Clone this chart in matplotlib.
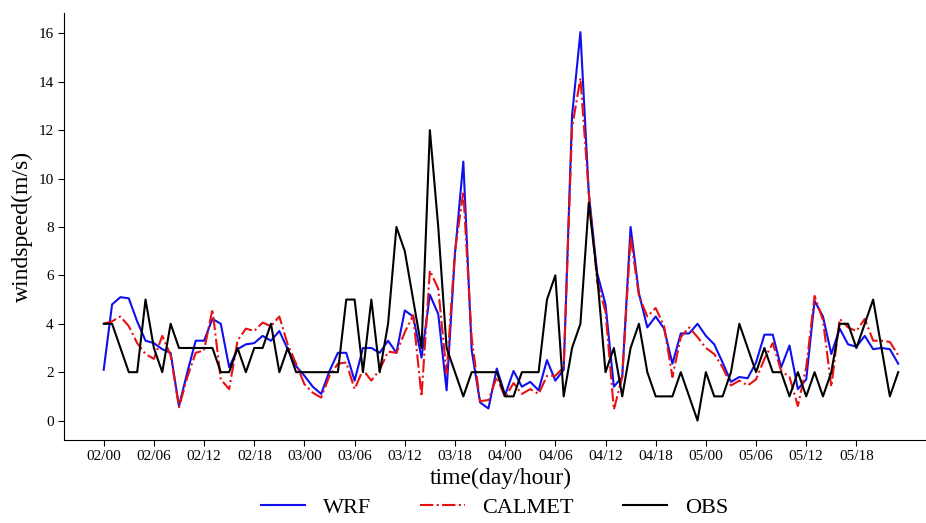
import matplotlib
matplotlib.use("Agg")
import matplotlib.pyplot as plt
import numpy as np

# hourly values, 02/00 .. 05/23
wrf = [2.1, 4.8, 5.1, 5.05, 4.1, 3.3, 3.2, 2.95, 2.8, 0.6, 2.0, 3.3,
       3.3, 4.2, 4.0, 2.2, 2.95, 3.15, 3.2, 3.5, 3.3, 3.7, 2.95, 2.25,
       1.85, 1.4, 1.1, 2.05, 2.8, 2.8, 1.65, 3.0, 3.0, 2.8, 3.3, 2.8,
       4.55, 4.3, 2.6, 5.2, 4.4, 1.25, 6.9, 10.7, 2.9, 0.75, 0.5, 2.15,
       1.05, 2.05, 1.4, 1.6, 1.25, 2.5, 1.65, 2.1, 12.6, 16.05, 9.4, 6.1,
       4.8, 1.4, 1.8, 8.0, 5.25, 3.85, 4.3, 3.8, 2.35, 3.6, 3.6, 4.0,
       3.5, 3.15, 2.4, 1.6, 1.8, 1.75, 2.4, 3.55, 3.55, 2.2, 3.1, 1.3,
       1.7, 4.95, 4.3, 2.75, 3.8, 3.15, 3.05, 3.5, 2.95, 3.0, 2.95, 2.35]
calmet = [4.0, 4.1, 4.3, 3.9, 3.2, 2.75, 2.55, 3.5, 2.7, 0.55, 1.8, 2.8,
          2.9, 4.6, 1.7, 1.3, 3.3, 3.8, 3.7, 4.05, 3.9, 4.3, 3.15, 2.35,
          1.5, 1.15, 0.95, 1.85, 2.35, 2.4, 1.3, 2.1, 1.65, 2.1, 2.85, 2.8,
          3.65, 4.35, 1.0, 6.2, 5.45, 1.95, 7.0, 9.45, 3.4, 0.8, 0.85, 1.8,
          0.95, 1.55, 1.1, 1.3, 1.1, 1.85, 1.85, 2.2, 12.1, 14.15, 9.4, 5.75,
          4.5, 0.45, 1.8, 7.6, 5.15, 4.3, 4.65, 3.9, 1.8, 3.45, 3.85, 3.45,
          3.0, 2.75, 2.2, 1.45, 1.65, 1.45, 1.7, 2.55, 3.2, 2.05, 1.8, 0.6,
          2.2, 5.15, 4.15, 1.4, 4.2, 3.85, 3.7, 4.2, 3.3, 3.3, 3.25, 2.7]
obs = [4, 4, 3, 2, 2, 5, 3, 2, 4, 3, 3, 3,
       3, 3, 2, 2, 3, 2, 3, 3, 4, 2, 3, 2,
       2, 2, 2, 2, 2, 5, 5, 2, 5, 2, 4, 8,
       7, 5, 3, 12, 8, 3, 2, 1, 2, 2, 2, 2,
       1, 1, 2, 2, 2, 5, 6, 1, 3, 4, 9, 6,
       2, 3, 1, 3, 4, 2, 1, 1, 1, 2, 1, 0,
       2, 1, 1, 2, 4, 3, 2, 3, 2, 2, 1, 2,
       1, 2, 1, 2, 4, 4, 3, 4, 5, 3, 1, 2]
tick_labels = ["02/00", "02/06", "02/12", "02/18", "03/00", "03/06", "03/12", "03/18",
               "04/00", "04/06", "04/12", "04/18", "05/00", "05/06", "05/12", "05/18"]

plt.rcParams['font.family'] = ['Liberation Serif', 'DejaVu Serif']

hours = np.arange(len(wrf))

fig = plt.figure(figsize=(9.26, 5.23), dpi=100)
ax = fig.add_axes([0.0691, 0.1587, 0.9438, 0.817])

ax.plot(hours, wrf, color="#1010ee", lw=1.5, label="WRF")
ax.plot(hours, calmet, color="#e81010", lw=1.5, ls="-.", label="CALMET")
ax.plot(hours, obs, color="black", lw=1.5, label="OBS")

ax.set_xticks(np.arange(0, 96, 6))
ax.set_xticklabels(tick_labels)
ax.set_yticks(np.arange(0, 17, 2))
ax.tick_params(labelsize=11, direction="out", length=4)
ax.spines["top"].set_visible(False)
ax.spines["right"].set_visible(False)

ax.set_xlabel("time(day/hour)", fontsize=17, labelpad=3)
ax.set_ylabel("windspeed(m/s)", fontsize=17)

fig.legend(loc="center", bbox_to_anchor=(0.534, 0.03), ncol=3, frameon=False,
           fontsize=16, columnspacing=2.2)

fig.savefig("out.png", dpi=100)
